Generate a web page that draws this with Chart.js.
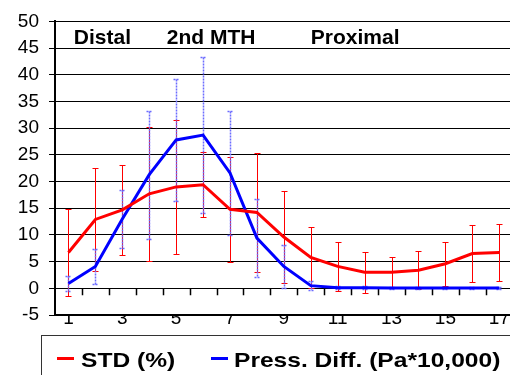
<!DOCTYPE html>
<html>
<head>
<meta charset="utf-8">
<script src="https://cdn.jsdelivr.net/npm/chart.js@4/dist/chart.umd.min.js"></script>
<style>
  html, body { margin: 0; padding: 0; background: #fff; }
  #wrap { position: relative; width: 510px; height: 375px; overflow: hidden; }
  #legend { position: absolute; left: 41px; top: 335px; width: 500px; height: 60px;
            border: 1px solid #333; font: bold 21px "Liberation Sans", Arial, sans-serif; color: #000; }
  .sw { position: absolute; top: 21px; width: 17px; height: 3px; }
  .lt { position: absolute; top: 13px; line-height: 21px; white-space: nowrap;
        transform: scaleX(1.17); transform-origin: 0 0; }
</style>
</head>
<body>
<div id="wrap">
  <canvas id="c" width="510" height="375"></canvas>
  <div id="legend"></div>
</div>
<script>
'use strict';
// ── data ──────────────────────────────────────────────────────────────────
const positions   = [1, 2, 3, 4, 5, 6, 7, 8, 9, 10, 11, 12, 13, 14, 15, 16, 17];
const xTickLabels = [1, 3, 5, 7, 9, 11, 13, 15, 17];
const seriesNames = ['STD (%)', 'Press. Diff. (Pa*10,000)'];
const stdValues   = [6.7, 12.9, 14.7, 17.7, 19.0, 19.4, 14.8, 14.2, 9.6, 5.8, 4.1, 3.0, 3.0, 3.4, 4.6, 6.5, 6.7];
const stdErr      = [8.1, 9.6, 8.4, 12.6, 12.6, 6.1, 9.8, 11.1, 8.6, 5.7, 4.6, 3.8, 2.8, 3.6, 4.1, 5.3, 5.3];
const pressValues = [0.9, 4.1, 13.0, 21.3, 27.8, 28.7, 21.6, 9.4, 4.1, 0.5, 0.1, 0.1, 0.05, 0.05, 0.05, 0.05, 0.05];
const pressErr    = [1.4, 3.3, 5.4, 12.0, 11.4, 14.6, 11.7, 7.3, 4.0, 0.9, 0.3, 0.3, 0.2, 0.2, 0.2, 0.2, 0.2];
const regionLabels = ['Distal', '2nd MTH', 'Proximal'];

// ── styling / placement ──────────────────────────────────────────────────
const COLORS   = ['#ff0000', '#0000ff'];
const ERR_STY  = [{ color: '#ff0000', dash: [], w: 1 }, { color: '#6b6bff', dash: [2, 1], w: 1.5 }];
const REGION_X = [1.2, 4.65, 10.0];   // left edge of each region label, x units
const REGION_Y = 45.7;                // baseline, y units
const FONT     = '"Liberation Sans", Arial, sans-serif';
const ERRORS   = [stdErr, pressErr];

const pts = vals => positions.map((p, i) => ({ x: p, y: vals[i] }));

const errorBars = {
  id: 'errorBars',
  beforeDatasetsDraw(chart) {
    const { ctx, scales: { x, y } } = chart;
    chart.data.datasets.forEach((ds, d) => {
      const err = ERRORS[d], sty = ERR_STY[d];
      ctx.save();
      ctx.strokeStyle = sty.color; ctx.lineWidth = sty.w; ctx.setLineDash(sty.dash);
      ds.data.forEach((p, i) => {
        const px = Math.round(x.getPixelForValue(p.x)) + 0.5;
        const t = Math.round(y.getPixelForValue(p.y + err[i])) + 0.5;
        const b = Math.round(y.getPixelForValue(p.y - err[i])) + 0.5;
        ctx.beginPath();
        ctx.moveTo(px, t); ctx.lineTo(px, b);
        ctx.moveTo(px - 3, t); ctx.lineTo(px + 3, t);
        ctx.moveTo(px - 3, b); ctx.lineTo(px + 3, b);
        ctx.stroke();
      });
      ctx.restore();
    });
  }
};

// small category-boundary ticks hanging off the zero line
const zeroTicks = {
  id: 'zeroTicks',
  beforeDatasetsDraw(chart) {
    const { ctx, scales: { x, y } } = chart;
    const y0 = y.getPixelForValue(0);
    ctx.save();
    ctx.strokeStyle = '#000'; ctx.lineWidth = 1.5;
    ctx.beginPath();
    positions.slice(0, -1).forEach(p => {
      const px = Math.round(x.getPixelForValue(p + 0.5)) + 0.5;
      ctx.moveTo(px, y0); ctx.lineTo(px, y0 + 7);
    });
    ctx.stroke();
    ctx.restore();
  }
};

const regionText = {
  id: 'regionText',
  afterDatasetsDraw(chart) {
    const { ctx, scales: { x, y } } = chart;
    ctx.save();
    ctx.font = 'bold 21px ' + FONT;
    ctx.fillStyle = '#000'; ctx.textAlign = 'left'; ctx.textBaseline = 'alphabetic';
    regionLabels.forEach((t, i) => ctx.fillText(t, x.getPixelForValue(REGION_X[i]), y.getPixelForValue(REGION_Y)));
    ctx.restore();
  }
};

new Chart(document.getElementById('c'), {
  type: 'line',
  data: {
    datasets: [
      { label: seriesNames[0], data: pts(stdValues), borderColor: COLORS[0], backgroundColor: COLORS[0],
        borderWidth: 3, pointRadius: 0, tension: 0, fill: false },
      { label: seriesNames[1], data: pts(pressValues), borderColor: COLORS[1], backgroundColor: COLORS[1],
        borderWidth: 3, pointRadius: 0, tension: 0, fill: false },
    ]
  },
  options: {
    responsive: false, animation: false,
    layout: { padding: { top: 17, right: 0, bottom: 0, left: 0 } },
    plugins: { legend: { display: false }, tooltip: { enabled: false } },
    scales: {
      x: {
        type: 'linear', min: 0.5, max: 17.4,
        grid: { display: false },
        border: { display: true, color: '#000', width: 2 },
        afterBuildTicks: s => { s.ticks = xTickLabels.map(v => ({ value: v })); },
        afterFit: s => { s.height = 60; },
        ticks: { padding: -16, color: '#000', maxRotation: 0, autoSkip: false, font: { family: FONT, size: 19 } },
      },
      y: {
        min: -5, max: 50,
        ticks: { stepSize: 5, padding: 10, color: '#000', font: { family: FONT, size: 19 } },
        grid: { color: '#000', lineWidth: 1, tickLength: 6 },
        border: { color: '#000', width: 2 },
        afterFit: s => { s.width = 55; },
      },
    },
  },
  plugins: [errorBars, zeroTicks, regionText],
});

// legend (outside the canvas, boxed like the original)
const LEG_SW = [15, 169], LEG_TX = [39, 192];
document.getElementById('legend').innerHTML = seriesNames.map((n, i) =>
  `<span class="sw" style="left:${LEG_SW[i]}px;background:${COLORS[i]}"></span>` +
  `<span class="lt" style="left:${LEG_TX[i]}px">${n}</span>`).join('');
</script>
</body>
</html>
